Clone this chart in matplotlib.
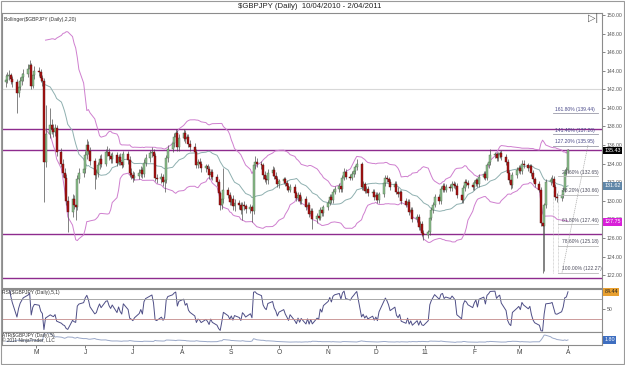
import numpy as np
import pandas as pd
import matplotlib
matplotlib.use("Agg")
import matplotlib.pyplot as plt
import matplotlib.dates as mdates
import matplotlib.transforms as mtrans

plt.rcParams['font.family'] = ['Liberation Sans', 'DejaVu Sans']

# daily bars, 12 Apr 2010 - 1 Apr 2011
dates = pd.bdate_range("2010-04-12", "2011-04-01")

close = [143.0, 143.4, 143.5, 143.1, 142.8, 141.6, 142.3, 142.9, 143.3, 143.7,
         144.2, 144.6, 142.4, 143.5, 144.0, 143.9, 143.2, 142.9, 134.2, 137.2,
         138.2, 137.7, 137.4, 137.8, 135.2, 134.0, 133.0, 132.5, 130.0, 128.8,
         130.2, 129.6, 129.3, 132.4, 133.0, 133.4, 134.9, 136.0, 135.4, 134.3,
         132.8, 133.0, 133.8, 134.5, 134.0, 135.2, 135.3, 134.8, 134.5, 134.9,
         134.1, 134.7, 134.2, 133.9, 135.0, 134.4, 133.0, 132.8, 132.5, 132.7,
         133.0, 133.3, 132.9, 134.1, 134.6, 135.1, 135.3, 134.8, 132.5, 132.3,
         132.6, 132.0, 132.2, 134.6, 135.6, 136.2, 136.9, 137.3, 135.8, 136.8,
         137.3, 136.6, 136.9, 136.1, 135.8, 135.3, 133.9, 134.2, 134.0, 133.5,
         133.7, 133.4, 132.8, 133.1, 132.6, 132.0, 130.8, 129.5, 130.2, 131.2,
         130.6, 129.9, 130.2, 129.4, 129.8, 129.5, 129.0, 129.6, 129.4, 129.1,
         129.3, 128.9, 133.9, 134.2, 134.0, 133.8, 132.8, 132.4, 132.2, 133.0,
         133.3, 132.7, 132.4, 131.8, 132.1, 132.3, 131.9, 131.6, 131.2, 131.5,
         130.8, 130.3, 130.6, 130.0, 130.2, 129.3, 129.6, 128.6, 128.9, 128.0,
         128.4, 128.2, 129.0, 128.7, 129.3, 129.8, 130.4, 130.1, 131.0, 131.3,
         131.6, 131.3, 132.5, 133.1, 132.6, 132.5, 132.9, 133.2, 133.6, 134.0,
         131.5, 131.8, 131.1, 131.3, 130.8, 131.0, 130.4, 130.6, 130.1, 130.7,
         131.9, 132.5, 132.3, 132.0, 131.5, 131.8, 131.0, 130.7, 130.9, 130.0,
         129.6, 129.9, 128.8, 129.0, 128.0, 128.3, 127.2, 127.5, 126.5, 126.3,
         126.6, 128.2, 129.0, 129.6, 130.4, 130.0, 131.3, 131.6, 131.2, 131.5,
         131.4, 131.8, 131.7, 131.6, 130.6, 130.1, 131.4, 132.0, 131.9, 131.7,
         131.5, 131.9, 132.2, 131.8, 132.6, 132.9, 132.5, 133.8, 134.2, 134.9,
         135.0, 134.6, 134.9, 135.1, 134.7, 134.2, 133.0, 132.2, 131.7, 132.8,
         133.3, 133.5, 133.2, 134.0, 133.8, 133.5, 133.7, 133.0, 132.3, 131.8,
         131.2, 127.6, 127.3, 129.5, 132.0, 132.2, 132.4, 131.5, 130.4, 130.3,
         130.6, 131.2, 133.1, 133.3, 135.43]

high = [143.6, 143.9, 144.1, 143.8, 143.4, 143.1, 142.7, 143.3, 143.8, 144.2,
        144.7, 145.2, 144.8, 143.9, 144.5, 144.4, 144.2, 143.5, 143.2, 140.3,
        140.0, 138.8, 138.3, 138.3, 138.2, 135.7, 134.5, 133.5, 132.9, 130.5,
        130.7, 130.6, 130.1, 132.8, 133.5, 133.9, 135.4, 136.6, 136.4, 135.8,
        134.6, 133.4, 134.2, 134.9, 135.0, 135.6, 135.9, 135.7, 135.1, 135.3,
        135.2, 135.0, 135.1, 134.6, 135.4, 135.4, 134.8, 133.5, 133.2, 133.1,
        133.4, 133.7, 133.6, 134.5, 135.0, 135.5, 135.8, 135.6, 135.1, 132.9,
        133.0, 132.9, 132.6, 134.9, 136.0, 136.6, 137.3, 137.7, 137.6, 137.2,
        137.7, 137.6, 137.2, 137.2, 136.5, 136.2, 135.6, 134.5, 134.6, 134.3,
        134.0, 134.0, 133.7, 133.4, 133.4, 132.9, 132.3, 131.1, 130.6, 133.5,
        131.5, 131.0, 130.5, 130.6, 130.2, 130.1, 129.9, 129.9, 130.0, 129.7,
        129.7, 129.6, 134.2, 134.8, 134.6, 134.3, 134.1, 133.2, 132.8, 133.4,
        133.7, 133.6, 133.1, 132.7, 132.4, 132.6, 132.6, 132.2, 131.9, 131.8,
        131.8, 131.1, 130.9, 130.9, 130.5, 130.5, 129.9, 129.9, 129.2, 129.2,
        128.7, 128.7, 129.3, 129.3, 129.6, 130.1, 130.7, 130.7, 131.3, 131.6,
        131.9, 131.9, 132.8, 133.5, 133.4, 132.9, 133.2, 133.5, 133.9, 134.5,
        134.2, 132.1, 132.0, 131.6, 131.6, 131.3, 131.3, 130.9, 130.9, 131.0,
        132.2, 132.8, 132.8, 132.6, 132.3, 132.1, 132.1, 131.5, 131.2, 131.2,
        130.3, 130.2, 130.2, 129.3, 129.3, 128.6, 128.6, 127.8, 127.8, 126.9,
        126.9, 128.5, 129.3, 129.9, 130.7, 130.7, 131.6, 131.9, 131.9, 131.8,
        131.8, 132.1, 132.1, 132.0, 131.9, 130.9, 131.7, 132.3, 132.3, 132.2,
        132.0, 132.2, 132.5, 132.5, 132.9, 133.2, 133.2, 134.1, 134.5, 135.6,
        135.3, 135.3, 135.2, 135.4, 135.5, 135.0, 134.5, 133.3, 132.5, 133.1,
        133.6, 133.8, 133.8, 134.4, 134.4, 134.1, 134.0, 134.0, 133.3, 132.6,
        132.1, 131.5, 128.0, 129.8, 132.4, 132.6, 132.8, 132.7, 131.8, 130.8,
        130.9, 131.5, 133.4, 133.6, 135.6]

low = [142.3, 142.7, 143.0, 142.6, 142.2, 139.5, 141.2, 141.9, 142.5, 142.9,
       143.3, 143.8, 142.0, 142.1, 143.1, 143.4, 142.8, 142.4, 129.9, 133.6,
       136.8, 137.2, 136.9, 137.0, 134.8, 133.6, 132.6, 132.0, 129.5, 126.6,
       128.3, 129.1, 127.9, 129.0, 131.9, 132.6, 133.0, 134.5, 135.0, 133.9,
       131.3, 132.3, 132.6, 133.4, 133.6, 133.7, 134.8, 134.4, 134.1, 134.1,
       133.7, 133.8, 133.8, 133.5, 133.6, 134.0, 132.6, 132.3, 132.0, 132.2,
       132.3, 132.6, 132.5, 132.6, 133.7, 134.2, 134.7, 134.4, 132.1, 131.9,
       131.9, 131.6, 131.0, 131.9, 134.2, 135.2, 135.8, 136.5, 135.4, 135.4,
       136.4, 136.2, 136.2, 135.8, 135.4, 134.9, 133.5, 133.5, 133.6, 133.1,
       133.1, 133.1, 132.4, 132.4, 132.2, 131.6, 130.4, 129.0, 129.1, 129.8,
       130.3, 129.5, 129.5, 129.0, 128.9, 129.1, 128.6, 127.9, 129.0, 128.7,
       128.7, 127.7, 128.6, 133.4, 133.6, 133.4, 132.4, 132.0, 131.8, 131.8,
       132.7, 132.4, 132.1, 131.5, 131.4, 131.8, 131.6, 131.2, 130.9, 130.9,
       130.5, 130.0, 130.0, 129.7, 129.7, 129.0, 129.0, 128.3, 128.3, 127.0,
       127.6, 127.9, 127.9, 128.4, 128.4, 129.0, 129.5, 129.8, 129.8, 130.7,
       131.0, 131.0, 131.0, 132.2, 132.3, 132.2, 132.2, 132.6, 132.9, 133.3,
       131.2, 131.2, 130.8, 130.8, 130.5, 130.5, 130.1, 130.1, 129.8, 129.8,
       130.4, 131.6, 132.0, 131.7, 131.2, 131.2, 130.7, 130.4, 130.4, 129.7,
       129.3, 129.3, 128.5, 128.5, 127.7, 127.7, 126.9, 126.9, 126.2, 125.8,
       126.0, 126.3, 127.9, 128.7, 129.3, 129.7, 129.7, 131.0, 130.9, 130.9,
       131.1, 131.1, 131.4, 131.3, 130.3, 129.8, 129.8, 131.1, 131.6, 131.4,
       131.2, 131.2, 131.6, 131.5, 131.5, 132.3, 132.2, 132.2, 133.5, 133.9,
       134.6, 134.3, 134.3, 134.6, 134.4, 133.9, 132.7, 131.9, 131.3, 131.4,
       132.5, 133.0, 132.9, 132.9, 133.5, 133.2, 133.2, 132.7, 132.0, 131.5,
       130.9, 127.3, 122.27, 122.4, 129.2, 131.7, 131.9, 131.2, 130.1, 129.9,
       130.0, 130.3, 130.9, 132.8, 133.0]

open_ = [142.8] + close[:-1]

# drawn levels and fibonacci tool
purple_levels = [137.72, 135.45, 126.45, 121.70]
gray_level = 142.0
ext_labels = ["161.80% (139.44)", "141.40% (137.20)", "127.20% (135.95)"]
ext_values = [139.44, 137.20, 135.95]
ret_labels = ["23.60% (132.65)", "38.20% (130.66)", "61.80% (127.46)", "78.60% (125.18)", "100.00% (122.27)"]
ret_values = [132.65, 130.66, 127.46, 125.18, 122.27]
month_labels = ["M", "J", "J", "A", "S", "O", "N", "D", "11", "F", "M", "A"]

x = mdates.date2num(dates)
s = pd.Series(close)
mid = s.rolling(20).mean()
sd = s.rolling(20).std(ddof=0)
upper = mid + 2 * sd
lower = mid - 2 * sd

delta = s.diff()
gain = delta.clip(lower=0).ewm(alpha=1 / 5, adjust=False).mean()
loss = (-delta.clip(upper=0)).ewm(alpha=1 / 5, adjust=False).mean()
rsi = 100 - 100 / (1 + gain / loss)

h = pd.Series(high)
l = pd.Series(low)
pc = s.shift(1)
tr = pd.concat([h - l, (h - pc).abs(), (l - pc).abs()], axis=1).max(axis=1)
atr = tr.ewm(alpha=1 / 5, adjust=False).mean()

fig = plt.figure(figsize=(6.25, 3.65), dpi=100)
W, H = 625.0, 365.0
ax = fig.add_axes([2 / W, 1 - 288 / H, 600 / W, 275 / H])
ax_rsi = fig.add_axes([2 / W, 1 - 332 / H, 600 / W, 43 / H], sharex=ax)
ax_atr = fig.add_axes([2 / W, 1 - 345 / H, 600 / W, 13 / H], sharex=ax)

may1 = mdates.date2num(pd.Timestamp("2010-05-01"))
def px2x(px):
    return may1 + (px - 36) / 1.588

ax.set_xlim(px2x(2), px2x(602))
ax.set_ylim(120.61, 150.22)

for a in (ax, ax_rsi, ax_atr):
    for sp in a.spines.values():
        sp.set_color("#8c8c8c")
        sp.set_linewidth(0.8)
    a.tick_params(axis="x", which="both", bottom=False, labelbottom=False)
    a.yaxis.tick_right()
    a.tick_params(axis="y", labelsize=3.7, length=2.5, width=0.5, colors="#555555", pad=1)

# horizontal levels
ax.axhline(gray_level, color="#d8d8d8", lw=0.8, zorder=1)
for lv in purple_levels:
    ax.axhline(lv, color="#8e2b8e", lw=1.0, zorder=2)

# bollinger bands
ax.plot(x, upper, color="#cf7fcf", lw=0.7, zorder=2)
ax.plot(x, lower, color="#cf7fcf", lw=0.7, zorder=2)
ax.plot(x, mid, color="#8fb0b0", lw=0.7, zorder=2)

# candles
op = np.array(open_)
cl = np.array(close)
up = cl >= op
ax.vlines(x, low, high, color="#505050", lw=0.5, zorder=3)
ax.bar(x[up], (cl - op)[up], bottom=op[up], width=1.25, color="#8cbf8c",
       edgecolor="#4d6b4d", linewidth=0.3, zorder=4)
ax.bar(x[~up], (op - cl)[~up], bottom=cl[~up], width=1.25, color="#a81212",
       edgecolor="#5a1010", linewidth=0.3, zorder=4)

# fibonacci tool
for lab, v in zip(ext_labels, ext_values):
    ax.plot([px2x(553), px2x(598)], [v, v], color="#9a9aa8", lw=0.6, zorder=5)
    ax.text(px2x(555), v + 0.15, lab, fontsize=3.6, color="#4a4a8a", va="bottom", zorder=6)
for lab, v in zip(ret_labels, ret_values):
    ax.plot([px2x(558), px2x(598)], [v, v], color="#b8b8b8", lw=0.6, zorder=5)
    ax.text(px2x(562), v + 0.15, lab, fontsize=3.6, color="#505060", va="bottom", zorder=6)
ax.plot([px2x(562), px2x(588)], [122.27, 136.0], color="#b0b0b0", lw=0.5, ls=(0, (2, 1)), zorder=5)
for px in (553, 558):
    ax.plot([px2x(px), px2x(px)], [122.27, 131.2], color="#b8b8b8", lw=0.5, ls=(0, (1, 1)), zorder=5)

ax.set_yticks(np.arange(122, 151, 2))
ax.yaxis.set_major_formatter(matplotlib.ticker.FormatStrFormatter("%.2f"))

# value tags on the price axis
bt = mtrans.blended_transform_factory(ax.transAxes, ax.transData)
tags = [(close[-1], "%.2f" % close[-1], "black", "white"),
        (mid.iloc[-1], "%.2f" % mid.iloc[-1], "#5f86a8", "white"),
        (lower.iloc[-1], "%.2f" % lower.iloc[-1], "#d81fd8", "white")]
for v, t, fc, tc in tags:
    ax.text(1.004, v, t, transform=bt, fontsize=3.9, color=tc, va="center", ha="left",
            bbox=dict(boxstyle="square,pad=0.25", fc=fc, ec="none"), zorder=10, clip_on=False)

ax.text(0.003, 0.985, "Bollinger(\\$GBPJPY (Daily),2,20)", transform=ax.transAxes,
        fontsize=3.6, va="top", ha="left", color="#333333")
fig.text(588 / W, 1 - 18 / H, "\u25b7|", fontsize=7, color="#555555", va="center")
fig.text(0.495, 1 - 6 / H, "\\$GBPJPY (Daily)  10/04/2010 - 2/04/2011", fontsize=5.6,
         ha="center", va="center", color="#222222")

# RSI panel
ax_rsi.plot(x, rsi, color="#4e4e86", lw=0.7)
ax_rsi.axhline(70, color="#9a9a9a", lw=0.6)
ax_rsi.axhline(30, color="#c48a8a", lw=0.6)
ax_rsi.set_ylim(4, 90)
ax_rsi.set_yticks([50])
ax_rsi.text(0.0, 0.97, "RSI(\\$GBPJPY (Daily),5,1)", transform=ax_rsi.transAxes,
            fontsize=3.6, va="top", ha="left", color="#333333")
bt2 = mtrans.blended_transform_factory(ax_rsi.transAxes, ax_rsi.transData)
ax_rsi.text(1.004, rsi.iloc[-1], "%.2f" % rsi.iloc[-1], transform=bt2, fontsize=3.9,
            color="#222222", va="center", bbox=dict(boxstyle="square,pad=0.25", fc="#e8a030", ec="none"),
            clip_on=False)

# ATR panel
ax_atr.plot(x, atr, color="#9aa8c8", lw=0.7)
ax_atr.set_ylim(0, atr.max() * 1.05)
ax_atr.set_yticks([])
ax_atr.text(0.0, 0.95, "ATR(\\$GBPJPY (Daily),5)\n\u00a9 2011 NinjaTrader, LLC", transform=ax_atr.transAxes,
            fontsize=3.4, va="top", ha="left", color="#333333", linespacing=0.9)
bt3 = mtrans.blended_transform_factory(ax_atr.transAxes, ax_atr.transData)
ax_atr.text(1.004, atr.iloc[-1], "%.2f" % atr.iloc[-1], transform=bt3, fontsize=3.9,
            color="white", va="center", bbox=dict(boxstyle="square,pad=0.25", fc="#3e6ec0", ec="none"),
            clip_on=False)

month_ticks = mdates.date2num(pd.date_range("2010-05-01", "2011-04-01", freq="MS"))
ax_atr.set_xticks(month_ticks)
ax_atr.set_xticklabels(month_labels)
ax_atr.tick_params(axis="x", bottom=True, labelbottom=True, labelsize=4.8, length=2,
                   width=0.5, colors="#444444", pad=1)

fig.patches.append(plt.Rectangle((0.001, 0.003), 0.997, 0.995, transform=fig.transFigure,
                                 fill=False, ec="#9a9a9a", lw=0.8))

fig.savefig("out.png", dpi=100)
